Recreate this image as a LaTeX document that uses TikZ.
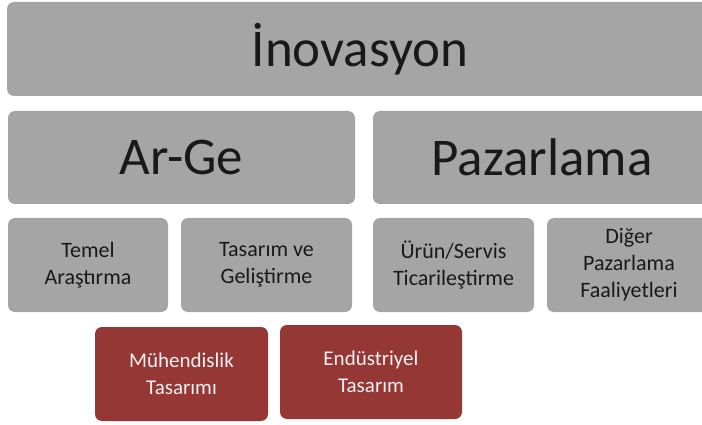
\documentclass[tikz,border=0pt]{standalone}
\usepackage{fontspec}
\setmainfont{Carlito}
\definecolor{boxgray}{HTML}{A5A5A5}
\definecolor{boxred}{HTML}{953735}
\tikzset{
  gbox/.style={rectangle, rounded corners=7pt, fill=boxgray, draw=none, align=center, text=black!90, inner sep=0pt},
  rbox/.style={rectangle, rounded corners=7pt, fill=boxred, draw=none, align=center, text=white!95!black, inner sep=0pt, font=\fontsize{21}{27}\selectfont},
  small/.style={font=\fontsize{22}{27}\selectfont},
  big/.style={font=\fontsize{53}{60}\selectfont}
}

\begin{document}
\begin{tikzpicture}[x=1pt,y=-1pt]
\useasboundingbox (0,0) rectangle (702,425);

% top level
\node (0) at (360,49) [gbox, big, minimum width=706pt, minimum height=94pt] {İnovasyon};

% second level
\node (1) at (181.5,157.5) [gbox, big, minimum width=347pt, minimum height=93pt] {Ar-Ge};
\node (2) at (542,157.5) [gbox, big, minimum width=338pt, minimum height=93pt] {Pazarlama};

% third level
\node (3) at (88,265) [gbox, small, minimum width=160pt, minimum height=94pt] {Temel\\Araştırma};
\node (4) at (266.5,265) [gbox, small, minimum width=171pt, minimum height=94pt] {Tasarım ve\\Geliştirme};
\node (5) at (453.5,265) [gbox, small, minimum width=161pt, minimum height=94pt] {Ürün/Servis\\Ticarileştirme};
\node (6) at (629,265) [gbox, small, minimum width=164pt, minimum height=94pt] {Diğer\\Pazarlama\\Faaliyetleri};

% design
\node (7) at (181.5,374) [rbox, minimum width=173pt, minimum height=94pt] {Mühendislik\\Tasarımı};
\node (8) at (371,372) [rbox, minimum width=182pt, minimum height=94pt] {Endüstriyel\\Tasarım};

\end{tikzpicture}
\end{document}
